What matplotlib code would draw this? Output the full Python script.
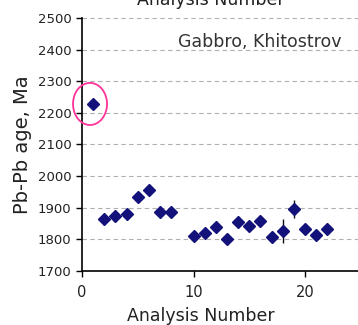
import numpy as np
import matplotlib.pyplot as plt
from matplotlib.patches import Ellipse

# Pb-Pb ages for each analysis (Ma) with 1-sigma errors
analysis = [1, 2, 3, 4, 5, 6, 7, 8, 10, 11, 12, 13, 14, 15, 16, 17, 18, 19, 20, 21, 22]
age = [2228, 1866, 1874, 1879, 1935, 1955, 1887, 1887, 1811, 1819, 1838, 1802,
       1855, 1842, 1857, 1809, 1827, 1896, 1834, 1813, 1834]
err = [8, 6, 6, 6, 8, 8, 6, 6, 8, 16, 12, 6, 8, 8, 8, 8, 37, 28, 8, 8, 12]

SAMPLE = "Gabbro, Khitostrov"

fig = plt.figure(figsize=(3.58, 3.25), dpi=100)
ax = fig.add_axes([0.229, 0.166, 0.779, 0.779])

ax.errorbar(analysis, age, yerr=err, fmt="D", color="#12127a", ms=6.3,
            ecolor="#111111", elinewidth=1, capsize=0, zorder=3)

# highlight the outlier
ell = Ellipse((0.72, 2228), 3.05, 133, fill=False, edgecolor="#ff3399",
              linewidth=1.3, clip_on=False, zorder=4)
ax.add_patch(ell)

ax.set_xlim(0, 25)
ax.set_ylim(1700, 2500)
ax.set_xticks([0, 10, 20])
ax.set_yticks(np.arange(1700, 2501, 100))
ax.yaxis.grid(True, linestyle=(0, (4, 3)), color="#b0b0b0", linewidth=0.8)
ax.set_axisbelow(True)

for side in ["top", "right"]:
    ax.spines[side].set_visible(False)
for side in ["left", "bottom"]:
    ax.spines[side].set_linewidth(1.2)
ax.tick_params(direction="out", length=4, width=1, labelsize=9.5,
               labelcolor="#222222")
ax.tick_params(axis="x", labelsize=10.5, pad=6)

ax.set_ylabel("Pb-Pb age, Ma", fontsize=14, color="#222222")
ax.yaxis.set_label_coords(-0.178, 0.5)
ax.set_xlabel("Analysis Number", fontsize=12.5, color="#222222")
ax.xaxis.set_label_coords(0.427, -0.142)

ax.text(342 / 358, 1 - 33 / 325, SAMPLE, transform=fig.transFigure,
        ha="right", va="top", fontsize=12.5, color="#333333")

# x label of the panel above, cut at the top edge
fig.text(0.59, 0.984, "Analysis Number", ha="center", va="baseline",
         fontsize=12.5, color="#222222")

fig.savefig("out.png", dpi=100)
